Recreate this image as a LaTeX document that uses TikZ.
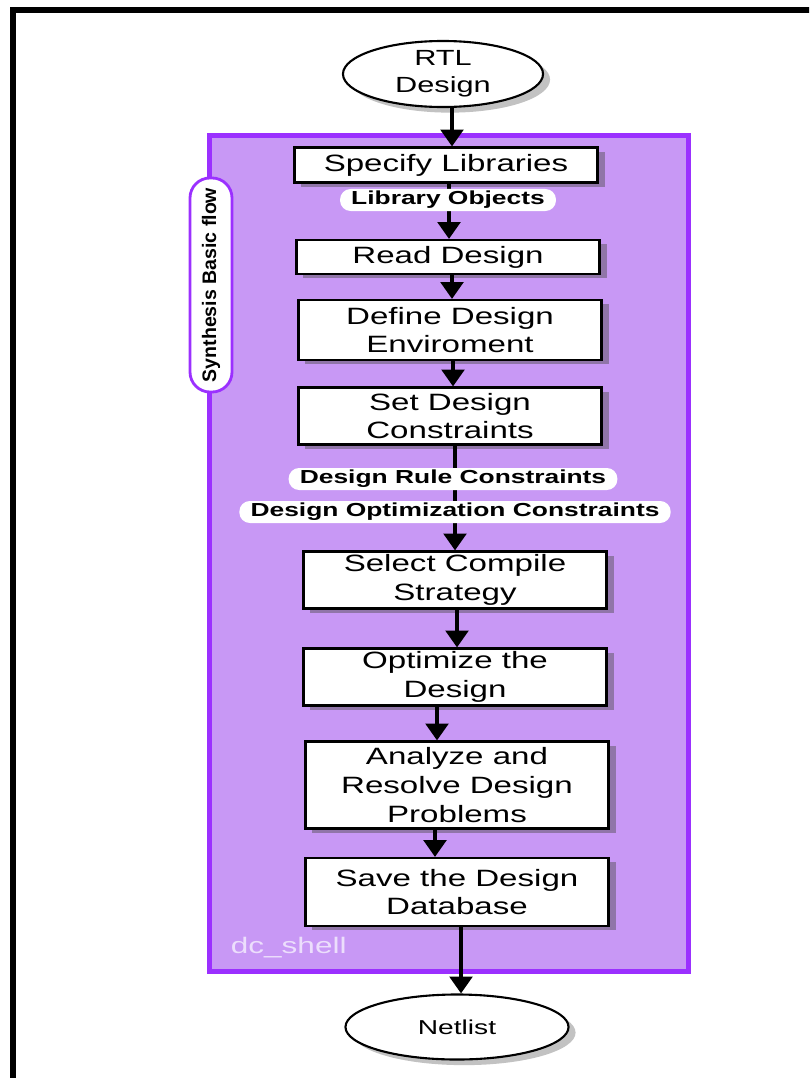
\documentclass[tikz,border=0pt]{standalone}
\usepackage{fontspec}
\setmainfont{Liberation Sans}[FakeStretch=1.4]
\newfontfamily\plainsans{Liberation Sans}
\usetikzlibrary{shapes.geometric,shadows,arrows.meta}
\definecolor{shellfill}{RGB}{200,152,245}
\definecolor{shelledge}{RGB}{155,48,255}
\definecolor{shelltext}{RGB}{236,222,252}
\tikzset{
  stepbox/.style={draw, line width=1.5pt, fill=white, align=center, inner sep=0pt,
    minimum width=7.575cm, font=\fontsize{16.8}{20.5}\selectfont,
    drop shadow={shadow xshift=5pt, shadow yshift=-3pt, fill=black!70, opacity=0.45}},
  endpoint/.style={draw, ellipse, line width=1.5pt, fill=white, align=center, inner sep=0pt,
    drop shadow={shadow xshift=5pt, shadow yshift=-4pt, fill=black!60, opacity=0.4}},
  pill/.style={fill=white, rounded corners=7.5pt, inner xsep=0.28cm, inner ysep=0pt,
    minimum height=0.55cm, font=\bfseries\fontsize{13.4}{14}\selectfont},
  flow/.style={line width=2.8pt, -{Triangle[width=16pt,length=12pt]}},
}

\begin{document}
\begin{tikzpicture}[x=0.025cm, y=-0.025cm]
\useasboundingbox (0,0) rectangle (809,1078);
\clip (0,0) rectangle (809,1078);
\draw[line width=4.25pt] (13,10) rectangle (900,1200);

% dc_shell frame
\draw[shelledge, line width=3.5pt, fill=shellfill] (209.5,135.5) rectangle (688.5,971.5);
\node[anchor=west, text=shelltext, font=\fontsize{16}{16}\selectfont] (shell) at (226,948) {dc\_shell};
\node[draw=shelledge, line width=2pt, fill=white, rounded corners=0.5cm, rotate=90,
  minimum width=5.35cm, minimum height=1.05cm, inner sep=0pt,
  font=\plainsans\bfseries\fontsize{13.9}{14}\selectfont] (flowtag) at (211,285) {Synthesis Basic flow};

% end points
\node[endpoint, minimum width=5cm, minimum height=1.65cm, font=\fontsize{15.6}{19}\selectfont] (rtl) at (443,74) {RTL\\Design};
\node[endpoint, minimum width=5.575cm, minimum height=1.625cm, font=\fontsize{14.3}{17}\selectfont] (netlist) at (457,1027) {Netlist};

% steps
\node[stepbox, minimum height=0.875cm] (spec) at (446,165) {Specify Libraries};
\node[stepbox, minimum height=0.85cm] (read) at (448,257) {Read Design};
\node[stepbox, minimum height=1.5cm] (define) at (450,330) {Define Design\\Enviroment};
\node[stepbox, minimum height=1.425cm] (setc) at (450,416) {Set Design\\Constraints};
\node[stepbox, minimum height=1.425cm] (select) at (455,580) {Select Compile\\Strategy};
\node[stepbox, minimum height=1.425cm] (optim) at (455,677) {Optimize the\\Design};
\node[stepbox, minimum height=2.175cm] (analyze) at (457,785) {Analyze and\\Resolve Design\\Problems};
\node[stepbox, minimum height=1.7cm] (save) at (457,892) {Save the Design\\Database};

% connectors
\draw[flow] ([xshift=0.225cm]rtl.south) -- ([xshift=0.15cm]spec.north);
\draw[flow] ([xshift=0.075cm]spec.south) -- ([xshift=0.025cm]read.north);
\draw[flow] ([xshift=0.1cm]read.south) -- ([xshift=0.05cm]define.north);
\draw[flow] ([xshift=0.075cm]define.south) -- ([xshift=0.075cm]setc.north);
\draw[flow] ([xshift=0.125cm]setc.south) -- (select.north);
\draw[flow] ([xshift=0.05cm]select.south) -- ([xshift=0.05cm]optim.north);
\draw[flow] ([xshift=-0.45cm]optim.south) -- ([xshift=-0.5cm]analyze.north);
\draw[flow] ([xshift=-0.55cm]analyze.south) -- ([xshift=-0.55cm]save.north);
\draw[flow] ([xshift=0.1cm]save.south) -- ([xshift=0.1cm]netlist.north);

% objects on the flow
\node[pill] (libobj) at (448,200) {Library Objects};
\node[pill] (rules) at (453,479) {Design Rule Constraints};
\node[pill] (optcons) at (455,512) {Design Optimization Constraints};
\end{tikzpicture}
\end{document}
